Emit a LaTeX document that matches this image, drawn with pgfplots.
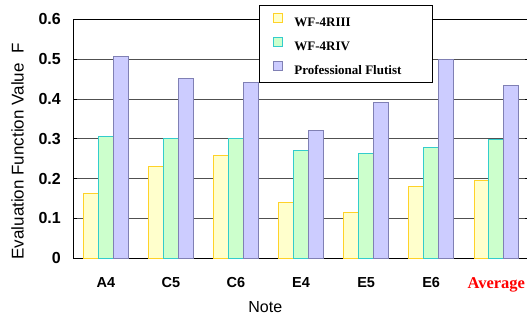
\documentclass[border=0pt]{standalone}
\usepackage{pgfplots}
\pgfplotsset{compat=1.18}
\usepackage{fontspec}
\setmainfont{Liberation Sans}
\newfontfamily\serifb{Liberation Serif}
\definecolor{yfill}{RGB}{255,255,204}
\definecolor{yedge}{RGB}{255,210,40}
\definecolor{gfill}{RGB}{204,255,204}
\definecolor{gedge}{RGB}{51,204,204}
\definecolor{pfill}{RGB}{204,204,255}
\definecolor{pedge}{RGB}{128,128,180}
\definecolor{gridc}{RGB}{80,80,80}
\newcommand{\lent}[1]{\makebox[122bp][l]{#1}}
\begin{document}
\begin{tikzpicture}
\begin{axis}[
  at={(0,0)}, anchor=south west,
  scale only axis,
  width=455.5bp, height=239bp,
  xmin=-0.5, xmax=6.5,
  ymin=0, ymax=0.6,
  ybar=0pt, bar width=14.8bp,
  xtick={0,1,2,3,4,5,6},
  xticklabels={A4,C5,C6,E4,E5,E6,{\serifb\fontsize{16.5bp}{18bp}\selectfont\color{red}Average}},
  x tick label style={font=\fontsize{14.5bp}{16bp}\selectfont\bfseries, yshift=-16bp},
  major x tick style={draw=none},
  extra x ticks={0.5,1.5,2.5,3.5,4.5,5.5},
  extra x tick labels={},
  extra x tick style={major tick length=6bp, tick align=inside, grid=none, tick style={draw=black!80, line width=0.8pt}},
  ytick={0,0.1,0.2,0.3,0.4,0.5,0.6},
  yticklabel style={font=\fontsize{16bp}{18bp}\selectfont\bfseries, xshift=-9bp},
  /pgf/number format/assume math mode=true,
  /pgf/number format/.cd, fixed, precision=1, /pgfplots/.cd,
  ymajorgrids, grid style={gridc, line width=0.8pt},
  y tick style={draw=black, line width=0.8pt},
  major tick length=4bp, tick align=inside,
  axis line style={black, line width=0.8pt},
  xlabel={Note},
  xlabel style={font=\fontsize{16bp}{18bp}\selectfont, at={(axis description cs:0.4215,0)}, anchor=base, yshift=-54.5bp},
  ylabel={Evaluation Function Value\ \ F},
  ylabel style={font=\fontsize{17bp}{19bp}\selectfont, at={(axis description cs:-0.1225,0.447)}, anchor=center},
  legend style={at={(axis description cs:0.4077,1.061)}, anchor=north west,
    draw=black, line width=0.8pt, fill=white,
    font=\serifb\fontsize{13bp}{15bp}\selectfont\bfseries,
    inner xsep=14bp, inner ysep=5bp, row sep=5bp,
    nodes={inner ysep=3bp, text height=13bp, text depth=0bp},
    /tikz/every odd column/.append style={column sep=9bp}},
  legend cell align=left,
  legend image code/.code={\draw[#1, line width=1pt] (0bp,-3bp) rectangle (9bp,6bp);},
]
\addplot[draw=yedge, fill=yfill, line width=1pt] coordinates {(0,0.163) (1,0.230) (2,0.258) (3,0.140) (4,0.115) (5,0.179) (6,0.196)};
\addplot[draw=gedge, fill=gfill, line width=1pt] coordinates {(0,0.307) (1,0.300) (2,0.300) (3,0.271) (4,0.262) (5,0.278) (6,0.297)};
\addplot[draw=pedge, fill=pfill, line width=1pt] coordinates {(0,0.506) (1,0.452) (2,0.442) (3,0.322) (4,0.390) (5,0.500) (6,0.435)};
\legend{\lent{WF-4RIII}, \lent{WF-4RIV}, \lent{Professional Flutist}}
\end{axis}
\pgfresetboundingbox
\path[use as bounding box] (-73.3bp,-59.7bp) rectangle (453.7bp,258.3bp);
\end{tikzpicture}
\end{document}
